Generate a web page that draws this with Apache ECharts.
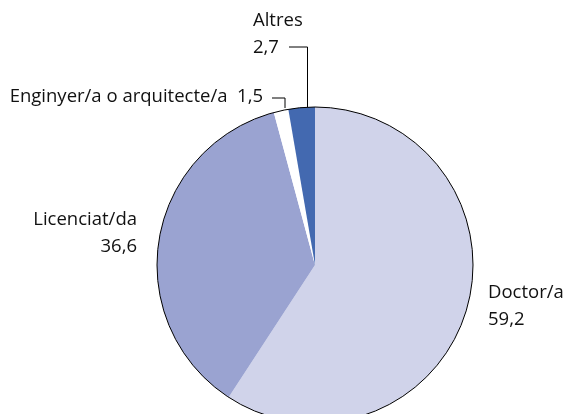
<!DOCTYPE html>
<html>
<head>
<meta charset="utf-8">
<script src="https://cdn.jsdelivr.net/npm/echarts@6/dist/echarts.min.js"></script>
<style>
  html, body { margin: 0; padding: 0; background: #fff; }
  #chart { width: 564px; height: 414px; }
</style>
</head>
<body>
<div id="chart"></div>
<script>
// dades
const categories = ['Doctor/a', 'Licenciat/da', 'Enginyer/a o arquitecte/a', 'Altres'];
const values = [59.2, 36.6, 1.5, 2.7];
const colors = ['#d0d3ea', '#9aa3d1', '#ffffff', '#4369b0'];

// posicio de les etiquetes (x, y, align) i linies guia
const labelPos = [
  { x: 488, y: 306, align: 'left' },
  { x: 137, y: 233, align: 'right' },
  { x: 263, y: 97, align: 'right' },
  { x: 253, y: 34, align: 'left' },
];
const guidePoints = [
  null,
  null,
  [[285, 108], [285, 98], [272, 98]],
  [[307.5, 107], [307.5, 47], [289, 47]],
];

const fmt = (v) => String(v).replace('.', ',');

const myChart = echarts.init(document.getElementById('chart'));
myChart.setOption({
  animation: false,
  series: [
    {
      type: 'pie',
      center: [315, 265],
      radius: 158,
      startAngle: 90,
      clockwise: true,
      silent: true,
      itemStyle: { borderWidth: 0 },
      label: {
        show: true,
        color: '#111',
        fontFamily: 'Open Sans',
        fontSize: 18.5,
        lineHeight: 27,
        overflow: 'none',
        formatter: (p) => p.dataIndex === 2
          ? p.name + '  ' + fmt(p.value)
          : p.name + '\n' + fmt(p.value),
      },
      labelLine: {
        show: true,
        length: 0,
        length2: 0,
        lineStyle: { color: '#000', width: 1 },
      },
      labelLayout: (params) => {
        const i = params.dataIndex;
        const pos = labelPos[i];
        return {
          x: pos.x,
          y: pos.y,
          align: pos.align,
          verticalAlign: 'middle',
          labelLinePoints: guidePoints[i] || [[0, 0], [0, 0], [0, 0]],
        };
      },
      data: categories.map((name, i) => ({
        name,
        value: values[i],
        itemStyle: { color: colors[i] },
        labelLine: { show: guidePoints[i] !== null },
      })),
    },
    {
      // contorn exterior
      type: 'pie',
      center: [315, 265],
      radius: 158,
      silent: true,
      label: { show: false },
      labelLine: { show: false },
      itemStyle: { color: 'transparent', borderColor: '#000', borderWidth: 1 },
      data: [{ value: 1, name: '' }],
    },
  ],
});
</script>
</body>
</html>
